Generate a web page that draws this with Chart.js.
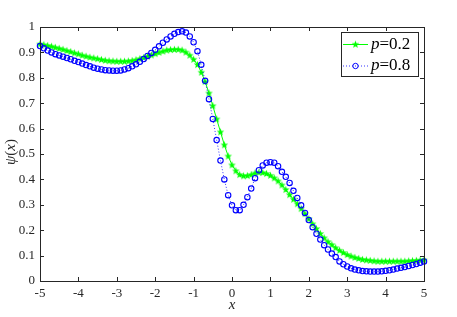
<!DOCTYPE html>
<html>
<head>
<meta charset="utf-8">
<script src="https://cdn.jsdelivr.net/npm/chart.js@4"></script>
<style>
html, body { margin: 0; padding: 0; background: #fff; }
</style>
</head>
<body>
<canvas id="chart-area" width="457" height="317"></canvas>
<script>
// sample positions
var xValues = [
    -5.0, -4.9, -4.8, -4.7, -4.6, -4.5, -4.4, -4.3, -4.2, -4.1,
    -4.0, -3.9, -3.8, -3.7, -3.6, -3.5, -3.4, -3.3, -3.2, -3.1,
    -3.0, -2.9, -2.8, -2.7, -2.6, -2.5, -2.4, -2.3, -2.2, -2.1,
    -2.0, -1.9, -1.8, -1.7, -1.6, -1.5, -1.4, -1.3, -1.2, -1.1,
    -1.0, -0.9, -0.8, -0.7, -0.6, -0.5, -0.4, -0.3, -0.2, -0.1,
    0.0, 0.1, 0.2, 0.3, 0.4, 0.5, 0.6, 0.7, 0.8, 0.9,
    1.0, 1.1, 1.2, 1.3, 1.4, 1.5, 1.6, 1.7, 1.8, 1.9,
    2.0, 2.1, 2.2, 2.3, 2.4, 2.5, 2.6, 2.7, 2.8, 2.9,
    3.0, 3.1, 3.2, 3.3, 3.4, 3.5, 3.6, 3.7, 3.8, 3.9,
    4.0, 4.1, 4.2, 4.3, 4.4, 4.5, 4.6, 4.7, 4.8, 4.9,
    5.0
];

// psi(x) for p=0.2
var psiLow = [
    0.933, 0.930, 0.927, 0.924, 0.920, 0.916, 0.912, 0.907, 0.903, 0.898,
    0.894, 0.889, 0.885, 0.881, 0.878, 0.875, 0.872, 0.869, 0.867, 0.866,
    0.865, 0.865, 0.865, 0.866, 0.868, 0.871, 0.875, 0.880, 0.885, 0.890,
    0.895, 0.900, 0.905, 0.909, 0.911, 0.912, 0.912, 0.909, 0.901, 0.889,
    0.873, 0.852, 0.822, 0.785, 0.740, 0.690, 0.638, 0.587, 0.536, 0.492,
    0.457, 0.434, 0.419, 0.414, 0.415, 0.419, 0.425, 0.428, 0.427, 0.423,
    0.416, 0.406, 0.394, 0.378, 0.360, 0.340, 0.322, 0.304, 0.285, 0.265,
    0.245, 0.225, 0.206, 0.187, 0.170, 0.155, 0.143, 0.131, 0.121, 0.112,
    0.104, 0.098, 0.093, 0.089, 0.085, 0.083, 0.081, 0.079, 0.078, 0.078,
    0.078, 0.078, 0.078, 0.078, 0.078, 0.078, 0.079, 0.080, 0.081, 0.082,
    0.083
];

// psi(x) for p=0.8
var psiHigh = [
    0.925, 0.916, 0.907, 0.900, 0.893, 0.888, 0.883, 0.878, 0.873, 0.867,
    0.862, 0.856, 0.850, 0.845, 0.840, 0.836, 0.833, 0.830, 0.829, 0.828,
    0.828, 0.829, 0.833, 0.838, 0.845, 0.853, 0.863, 0.874, 0.886, 0.898,
    0.910, 0.924, 0.938, 0.951, 0.963, 0.973, 0.980, 0.983, 0.978, 0.963,
    0.940, 0.905, 0.851, 0.788, 0.716, 0.638, 0.555, 0.474, 0.400, 0.338,
    0.298, 0.279, 0.279, 0.300, 0.330, 0.364, 0.405, 0.436, 0.455, 0.466,
    0.468, 0.466, 0.452, 0.430, 0.410, 0.386, 0.355, 0.327, 0.298, 0.268,
    0.240, 0.212, 0.186, 0.163, 0.141, 0.124, 0.108, 0.094, 0.077, 0.066,
    0.057, 0.050, 0.045, 0.042, 0.039, 0.038, 0.037, 0.037, 0.037, 0.038,
    0.040, 0.042, 0.045, 0.049, 0.052, 0.055, 0.059, 0.063, 0.067, 0.072,
    0.077
];

var seriesNames = ['p', 'p'];
var seriesValues = ['=0.2', '=0.8'];
var xTicks = [-5, -4, -3, -2, -1, 0, 1, 2, 3, 4, 5];
var yTicks = [0, 0.1, 0.2, 0.3, 0.4, 0.5, 0.6, 0.7, 0.8, 0.9, 1];

var axisColor = '#262626';
var serif = '"Liberation Serif", "DejaVu Serif", serif';

function makeStar(color) {
    var c = document.createElement('canvas');
    c.width = 9;
    c.height = 9;
    var g = c.getContext('2d');
    g.beginPath();
    for (var i = 0; i < 10; i++) {
        var r = (i % 2 === 0) ? 4 : 1.7;
        var a = -Math.PI / 2 + i * Math.PI / 5;
        var px = 4.5 + r * Math.cos(a);
        var py = 4.8 + r * Math.sin(a);
        if (i === 0) g.moveTo(px, py); else g.lineTo(px, py);
    }
    g.closePath();
    g.fillStyle = color;
    g.fill();
    return c;
}

var starImg = makeStar('#00ff00');

function toPoints(ys) {
    var pts = [];
    for (var i = 0; i < xValues.length; i++) {
        pts.push({ x: xValues[i], y: ys[i] });
    }
    return pts;
}

// writes mixed italic / upright pieces one after the other
function drawPieces(ctx, pieces, x, y, size) {
    var total = 0;
    pieces.forEach(function (p) {
        ctx.font = (p[1] ? 'italic ' : '') + size + 'px ' + serif;
        total += ctx.measureText(p[0]).width;
    });
    var cx = x - total / 2;
    pieces.forEach(function (p) {
        ctx.font = (p[1] ? 'italic ' : '') + size + 'px ' + serif;
        ctx.fillText(p[0], cx, y);
        cx += ctx.measureText(p[0]).width;
    });
}

// box, inward ticks, axis titles and legend, MATLAB style
var frame = {
    id: 'frame',
    afterDraw: function (chart) {
        var ctx = chart.ctx;
        var a = chart.chartArea;
        var xs = chart.scales.x;
        var ys = chart.scales.y;
        ctx.save();
        ctx.strokeStyle = axisColor;
        ctx.lineWidth = 1;
        ctx.strokeRect(Math.round(a.left) + 0.5, Math.round(a.top) + 0.5,
            Math.round(a.right - a.left), Math.round(a.bottom - a.top));
        ctx.beginPath();
        xTicks.forEach(function (v) {
            var px = Math.round(xs.getPixelForValue(v)) + 0.5;
            ctx.moveTo(px, a.bottom);
            ctx.lineTo(px, a.bottom - 4);
            ctx.moveTo(px, a.top);
            ctx.lineTo(px, a.top + 4);
        });
        yTicks.forEach(function (v) {
            var py = Math.round(ys.getPixelForValue(v)) + 0.5;
            ctx.moveTo(a.left, py);
            ctx.lineTo(a.left + 4, py);
            ctx.moveTo(a.right, py);
            ctx.lineTo(a.right - 4, py);
        });
        ctx.stroke();

        // axis titles
        ctx.fillStyle = axisColor;
        ctx.textAlign = 'left';
        ctx.textBaseline = 'middle';
        drawPieces(ctx, [['x', true]], (a.left + a.right) / 2, 305, 15);
        ctx.save();
        ctx.translate(11, 152);
        ctx.rotate(-Math.PI / 2);
        drawPieces(ctx, [['\u03c8', true], ['(', false], ['x', true], [')', false]], 0, 0, 15);
        ctx.restore();

        // legend
        var lx = 341.5, ly = 32.5, lw = 77, lh = 44;
        ctx.fillStyle = '#fff';
        ctx.fillRect(lx, ly, lw, lh);
        ctx.strokeStyle = axisColor;
        ctx.strokeRect(lx, ly, lw, lh);
        chart.data.datasets.forEach(function (ds, i) {
            var rowY = 44.5 + i * 21.5;
            ctx.save();
            ctx.strokeStyle = ds.borderColor;
            ctx.lineWidth = ds.borderWidth;
            ctx.setLineDash(ds.borderDash || []);
            ctx.beginPath();
            ctx.moveTo(343, rowY);
            ctx.lineTo(368, rowY);
            ctx.stroke();
            ctx.restore();
            if (ds.pointStyle === 'circle') {
                ctx.strokeStyle = ds.pointBorderColor;
                ctx.lineWidth = 1;
                ctx.beginPath();
                ctx.arc(355.5, rowY, ds.pointRadius, 0, Math.PI * 2);
                ctx.stroke();
            } else {
                ctx.drawImage(ds.pointStyle, 351, rowY - 4.8);
            }
            ctx.fillStyle = '#000';
            ctx.textAlign = 'left';
            ctx.textBaseline = 'middle';
            ctx.font = 'italic 17px ' + serif;
            ctx.fillText(seriesNames[i], 371, rowY);
            var w = ctx.measureText(seriesNames[i]).width;
            ctx.font = '17px ' + serif;
            ctx.fillText(seriesValues[i], 371 + w, rowY);
        });
        ctx.restore();
    }
};

var config = {
    type: 'line',
    data: {
        datasets: [{
            label: seriesNames[0] + seriesValues[0],
            data: toPoints(psiLow),
            borderColor: '#00ff00',
            borderWidth: 1,
            pointStyle: starImg,
            order: 1,
            clip: false
        }, {
            label: seriesNames[1] + seriesValues[1],
            data: toPoints(psiHigh),
            borderColor: 'rgba(0,0,255,0.8)',
            borderWidth: 1,
            borderDash: [1, 2],
            pointStyle: 'circle',
            pointRadius: 2.7,
            pointBorderWidth: 1.1,
            pointBorderColor: '#0000ff',
            pointBackgroundColor: 'rgba(0,0,0,0)',
            order: 0,
            clip: false
        }]
    },
    options: {
        responsive: false,
        animation: false,
        events: [],
        layout: { padding: { top: 27, right: 33, left: 0, bottom: 0 } },
        plugins: {
            legend: { display: false },
            tooltip: { enabled: false }
        },
        scales: {
            x: {
                type: 'linear',
                min: -5,
                max: 5,
                afterBuildTicks: function (scale) {
                    scale.ticks = xTicks.map(function (v) { return { value: v }; });
                },
                afterFit: function (scale) { scale.height = 36; },
                grid: { display: false, drawTicks: false },
                border: { display: false },
                ticks: {
                    padding: 5,
                    maxRotation: 0,
                    autoSkip: false,
                    color: axisColor,
                    font: { family: serif, size: 13 }
                }
            },
            y: {
                type: 'linear',
                min: 0,
                max: 1,
                afterBuildTicks: function (scale) {
                    scale.ticks = yTicks.map(function (v) { return { value: v }; });
                },
                afterFit: function (scale) { scale.width = 40; },
                grid: { display: false, drawTicks: false },
                border: { display: false },
                ticks: {
                    padding: 5,
                    autoSkip: false,
                    color: axisColor,
                    font: { family: serif, size: 13 },
                    callback: function (v) { return String(Math.round(v * 10) / 10); }
                }
            }
        }
    },
    plugins: [frame]
};

var ctx = document.getElementById('chart-area').getContext('2d');
window.myChart = new Chart(ctx, config);
</script>
</body>
</html>
